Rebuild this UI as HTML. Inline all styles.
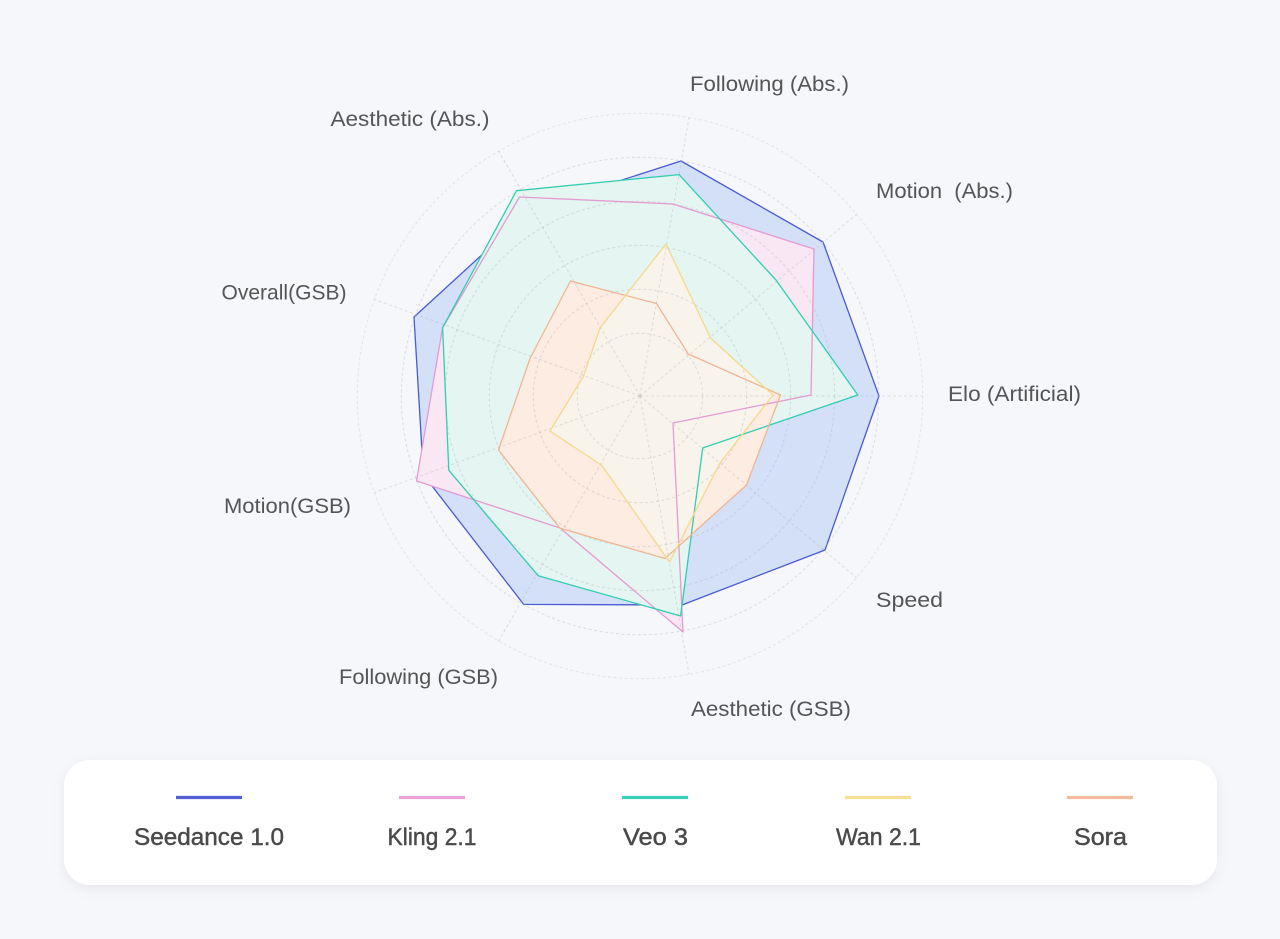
<!DOCTYPE html>
<html>
<head>
<meta charset="utf-8">
<style>
  html, body { margin: 0; padding: 0; background: #f6f7fb; }
  body { width: 1280px; height: 939px; overflow: hidden; }
  svg { display: block; }
  .lbl { font-family: "Liberation Sans", sans-serif; font-size: 21px; fill: #555; }
  .leg { font-family: "Liberation Sans", sans-serif; font-size: 24px; fill: #4a4a4a; stroke: #4a4a4a; stroke-width: 0.45px; }
</style>
</head>
<body>
<svg width="1280" height="939" viewBox="0 0 1280 939" xmlns="http://www.w3.org/2000/svg">
  <defs>
    <filter id="sh" x="-5%" y="-20%" width="110%" height="150%">
      <feDropShadow dx="0" dy="4" stdDeviation="6" flood-color="#000" flood-opacity="0.06"/>
    </filter>
  </defs>
  <rect x="0" y="0" width="1280" height="939" fill="#f6f7fb"/>

  <!-- Seedance fill + line (under others) -->
  <polygon points="681,161 823,242 879,396 825,550 682,605 523.7,604.4 423.4,474.8 414,317 532,209" fill="#d3e0f8" stroke="#4a5bd0" stroke-width="1.3" stroke-linejoin="round"/>
  <!-- Kling fill -->
  <polygon points="673,204 814,249 811,395 673,423 683,632 560,528 416.5,481 442.5,328 519.5,197" fill="#f9e8f3"/>
  <!-- Veo fill -->
  <polygon points="679,174.6 776,280 857.8,395 702.7,448 680.6,616 538.2,575.7 448.8,470.3 442.6,327.7 516.5,190.7" fill="#e5f5f1"/>
  <!-- Sora fill -->
  <polygon points="656.5,303.5 688.3,354 780.5,395 746.5,485 665,558.5 560,528.3 498.5,450 530,358.5 570.5,281" fill="#fdece2"/>
  <!-- Wan fill -->
  <polygon points="666,244 710.5,338 773,395 720,463 669.5,562 602,465.5 550,431 583.3,376.7 600,328" fill="#f8f4eb"/>

  <!-- Grid -->
  <g fill="none" stroke="#a9aeb8" stroke-opacity="0.36" stroke-width="1" stroke-dasharray="3 2.5">
    <circle cx="640" cy="396" r="62.7"/>
    <circle cx="640" cy="396" r="106.7"/>
    <circle cx="640" cy="396" r="150.7"/>
    <circle cx="640" cy="396" r="194.7"/>
    <circle cx="640" cy="396" r="238.7"/>
    <circle cx="640" cy="396" r="282.7" stroke-opacity="0.26"/>
    <line x1="640" y1="396" x2="689.1" y2="117.3"/>
    <line x1="640" y1="396" x2="856.8" y2="214.1"/>
    <line x1="640" y1="396" x2="923" y2="396"/>
    <line x1="640" y1="396" x2="856.8" y2="577.9"/>
    <line x1="640" y1="396" x2="689.1" y2="674.7"/>
    <line x1="640" y1="396" x2="498.5" y2="641.1"/>
    <line x1="640" y1="396" x2="374.1" y2="492.8"/>
    <line x1="640" y1="396" x2="374.1" y2="299.2"/>
    <line x1="640" y1="396" x2="498.5" y2="150.9"/>
  </g>

  <!-- Lines on top -->
  <g fill="none" stroke-width="1.3" stroke-linejoin="round">
    <polygon points="673,204 814,249 811,395 673,423 683,632 560,528 416.5,481 442.5,328 519.5,197" stroke="#e59ad2"/>
    <polygon points="679,174.6 776,280 857.8,395 702.7,448 680.6,616 538.2,575.7 448.8,470.3 442.6,327.7 516.5,190.7" stroke="#33cdb0"/>
    <polygon points="656.5,303.5 688.3,354 780.5,395 746.5,485 665,558.5 560,528.3 498.5,450 530,358.5 570.5,281" stroke="#f0b594"/>
    <polygon points="666,244 710.5,338 773,395 720,463 669.5,562 602,465.5 550,431 583.3,376.7 600,328" stroke="#f5d98a"/>
  </g>

  <!-- Axis labels -->
  <text class="lbl" x="690" y="91" textLength="159" lengthAdjust="spacingAndGlyphs">Following (Abs.)</text>
  <text class="lbl" x="876" y="198" textLength="137" lengthAdjust="spacingAndGlyphs" xml:space="preserve">Motion  (Abs.)</text>
  <text class="lbl" x="948" y="401" textLength="133" lengthAdjust="spacingAndGlyphs">Elo (Artificial)</text>
  <text class="lbl" x="876" y="607" textLength="67" lengthAdjust="spacingAndGlyphs">Speed</text>
  <text class="lbl" x="691" y="716" textLength="160" lengthAdjust="spacingAndGlyphs">Aesthetic (GSB)</text>
  <text class="lbl" x="339" y="684" textLength="159" lengthAdjust="spacingAndGlyphs">Following (GSB)</text>
  <text class="lbl" x="224" y="513" textLength="127" lengthAdjust="spacingAndGlyphs">Motion(GSB)</text>
  <text class="lbl" x="221.5" y="299.5" textLength="125" lengthAdjust="spacingAndGlyphs">Overall(GSB)</text>
  <text class="lbl" x="330.5" y="126" textLength="159" lengthAdjust="spacingAndGlyphs">Aesthetic (Abs.)</text>

  <!-- Legend -->
  <rect x="64" y="760" width="1153" height="125" rx="26" ry="26" fill="#ffffff" filter="url(#sh)"/>
  <g stroke-width="3.2">
    <line x1="176" y1="797.5" x2="242" y2="797.5" stroke="#5062d2"/>
    <line x1="399" y1="797.5" x2="465" y2="797.5" stroke="#eaa2d8"/>
    <line x1="622" y1="797.5" x2="688" y2="797.5" stroke="#3ccfb5"/>
    <line x1="845" y1="797.5" x2="911" y2="797.5" stroke="#f7df93"/>
    <line x1="1067" y1="797.5" x2="1133" y2="797.5" stroke="#f2bb9c"/>
  </g>
  <text class="leg" x="134" y="845" textLength="150" lengthAdjust="spacingAndGlyphs">Seedance 1.0</text>
  <text class="leg" x="387.5" y="845" textLength="89" lengthAdjust="spacingAndGlyphs">Kling 2.1</text>
  <text class="leg" x="623" y="845" textLength="65" lengthAdjust="spacingAndGlyphs">Veo 3</text>
  <text class="leg" x="836" y="845" textLength="85" lengthAdjust="spacingAndGlyphs">Wan 2.1</text>
  <text class="leg" x="1074" y="845" textLength="53" lengthAdjust="spacingAndGlyphs">Sora</text>
</svg>
</body>
</html>
